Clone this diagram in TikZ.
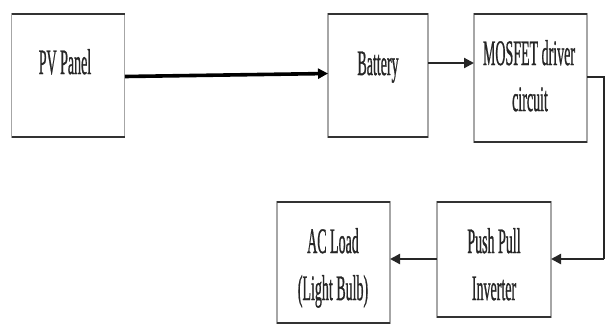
\documentclass[tikz,border=0pt]{standalone}
\usepackage{fontspec}
\setmainfont[BoldFont={Liberation Serif},BoldFeatures={FakeBold=1.2}]{Liberation Serif}
\usepackage{graphicx}
\usetikzlibrary{arrows.meta}
\newcommand\sqz[1]{\scalebox{0.39}[1]{#1}}
\begin{document}
\begin{tikzpicture}[x=1bp,y=-1bp,
  blk/.style={draw=gray!70, line width=1.2bp, inner sep=0pt, outer sep=0pt},
  edgeline/.style={draw=black!80, line width=2.6bp},
  txt/.style={anchor=base, inner sep=0pt, text=black!85, font=\fontsize{36}{47}\selectfont\bfseries},
  conn/.style={draw=black!85, line width=2.2bp, -{Triangle[length=10bp,width=10bp]}},
  thickconn/.style={draw=black, line width=3.6bp, -{Triangle[length=10bp,width=10bp]}},
  plainconn/.style={draw=black!85, line width=2.2bp}
]
\useasboundingbox (0,0) rectangle (605,326);
\fill[white] (0,0) rectangle (605,326);

% boxes
\node[blk, minimum width=113bp, minimum height=123bp] (pv)  at (68.3,75.5) {};
\node[blk, minimum width=100bp, minimum height=123bp] (bat) at (378,75.5) {};
\node[blk, minimum width=113bp, minimum height=128bp] (mos) at (530.5,78) {};
\node[blk, minimum width=114bp, minimum height=115bp] (pp)  at (494,259.5) {};
\node[blk, minimum width=113bp, minimum height=121bp] (ac)  at (333.5,262.5) {};

\foreach \b in {pv,bat,mos,pp,ac}{
  \draw[edgeline] (\b.north west) -- (\b.north east);
  \draw[edgeline] (\b.south west) -- (\b.south east);
}

% texts
\node[txt] (pvt)  at (65,74)    {\sqz{PV Panel}};
\node[txt] (batt) at (378,75)   {\sqz{Battery}};
\node[txt] (mos1) at (529,65)   {\sqz{MOSFET driver}};
\node[txt] (mos2) at (530,111)  {\sqz{circuit}};
\node[txt] (pp1)  at (494,253)  {\sqz{Push Pull}};
\node[txt] (pp2)  at (494,300)  {\sqz{Inverter}};
\node[txt] (ac1)  at (333,253)  {\sqz{AC Load}};
\node[txt] (ac2)  at (333,300)  {\sqz{(Light Bulb)}};

% connectors
\coordinate (c1) at (604,77);
\coordinate (c2) at (604,259);
\draw[thickconn] ([yshift=-1bp]pv.east) -- ([yshift=2bp]bat.west);
\draw[conn] (bat.east |- 0,63) -- (mos.west |- 0,63);
\draw[plainconn] (mos.east |- c1) -- (c1) -- (c2);
\draw[conn] (c2) -- (pp.east |- c2);
\draw[conn] (pp.west |- c2) -- (ac.east |- c2);
\end{tikzpicture}
\end{document}
